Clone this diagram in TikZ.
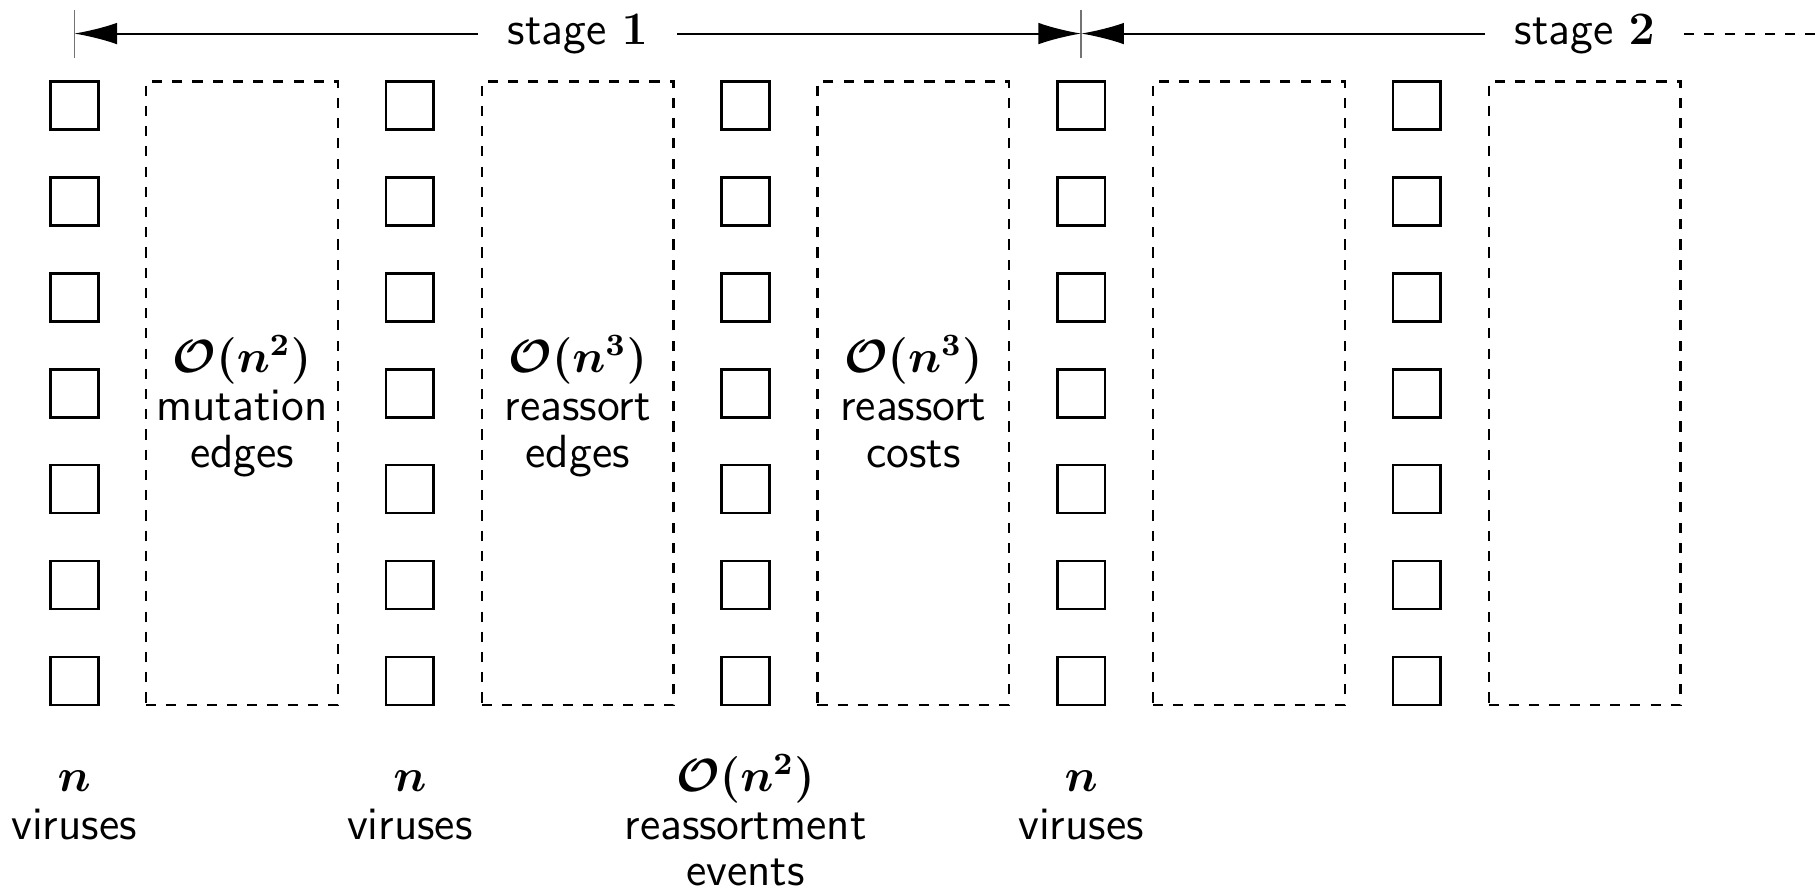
\documentclass[tikz,border=0pt]{standalone}
\usepackage{amsmath}
\usetikzlibrary{arrows.meta}

\tikzset{
  vbox/.style={draw, line width=0.8pt, minimum size=0.5cm, inner sep=0pt},
  dbox/.style={draw, dashed, line width=0.7pt, minimum width=2cm, minimum height=6.5cm, inner sep=0pt},
  lbl/.style={font=\sffamily\fontsize{12}{14}\selectfont, scale=1.15, inner sep=0pt, anchor=base},
  stagelbl/.style={font=\sffamily\fontsize{12}{14}\selectfont, scale=1.15, inner xsep=7.4pt, inner ysep=0pt, anchor=base},
  span/.style={line width=0.6pt, -{Latex[length=12.7pt,width=6.4pt]}},
  tick/.style={line width=0.4pt, black!55},
}

\newcommand{\bigO}[1]{$\boldsymbol{\mathcal{O}(n^{#1})}$}

\begin{document}
\begin{tikzpicture}
  \useasboundingbox (-0.7737,-8.181) rectangle (18.152,1.100);

  % columns of virus cells and the dashed work areas between them
  \foreach \c in {0,...,4} {
    \foreach \r in {0,...,6}
      \node[vbox] (v-\c-\r) at (\c*3.5,-\r) {};
    \node[dbox] (d-\c) at (\c*3.5+1.75,-3) {};
  }

  % labels inside the work areas
  \node[lbl] (a1) at (1.75,-2.78) {\bigO{2}};
  \node[lbl] (a2) at (1.75,-3.28) {mutation};
  \node[lbl] (a3) at (1.75,-3.77) {edges};
  \node[lbl] (b1) at (5.25,-2.78) {\bigO{3}};
  \node[lbl] (b2) at (5.25,-3.28) {reassort};
  \node[lbl] (b3) at (5.25,-3.77) {edges};
  \node[lbl] (c1) at (8.75,-2.78) {\bigO{3}};
  \node[lbl] (c2) at (8.75,-3.28) {reassort};
  \node[lbl] (c3) at (8.75,-3.77) {costs};

  % labels under the columns
  \node[lbl] (n0) at (0,-7.15) {$\boldsymbol{n}$};
  \node[lbl] (w0) at (0,-7.65) {viruses};
  \node[lbl] (n1) at (3.5,-7.15) {$\boldsymbol{n}$};
  \node[lbl] (w1) at (3.5,-7.65) {viruses};
  \node[lbl] (n2) at (7,-7.15) {\bigO{2}};
  \node[lbl] (w2) at (7,-7.65) {reassortment};
  \node[lbl] (e2) at (7,-8.13) {events};
  \node[lbl] (n3) at (10.5,-7.15) {$\boldsymbol{n}$};
  \node[lbl] (w3) at (10.5,-7.65) {viruses};

  % stage markers
  \coordinate (t1) at (0,0.75);
  \coordinate (t4) at (10.5,0.75);
  \coordinate (tend) at (18.152,0.75);
  \draw[tick] (0,0.5) -- (0,1.0);
  \draw[tick] (10.5,0.5) -- (10.5,1.0);

  \node[stagelbl] (s1) at (5.25,0.631) {stage $\mathbf{1}$};
  \node[stagelbl] (s2) at (15.75,0.631) {stage $\mathbf{2}$};

  \draw[span] (s1.west |- t1) -- (t1);
  \draw[span] (s1.east |- t1) -- (t4);
  \draw[span] (s2.west |- t4) -- (t4);
  \draw[line width=0.6pt, dashed] (s2.east |- t4) -- (tend);
\end{tikzpicture}
\end{document}
